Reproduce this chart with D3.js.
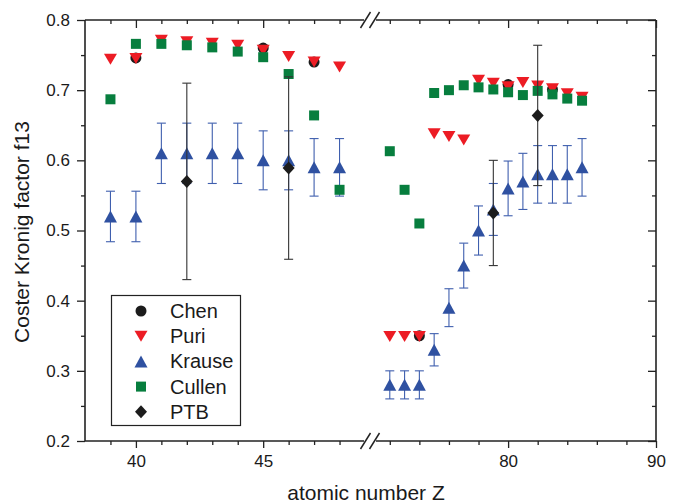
<!DOCTYPE html>
<html>
<head>
<meta charset="utf-8">
<script src="https://cdn.jsdelivr.net/npm/d3@7"></script>
<style>
  body { margin: 0; background: #fff; }
  svg { display: block; }
  text { font-family: "Liberation Sans", Arial, Helvetica, sans-serif; fill: #1a1a1a; }
</style>
</head>
<body>
<svg id="chart" width="678" height="504"></svg>
<script>
// Coster-Kronig factor f13 versus atomic number Z, from several sources
const chenZ = [40, 45, 47, 74, 80, 83];
const chenF = [0.746, 0.760, 0.740, 0.350, 0.708, 0.701];

const puriZ = [39, 40, 41, 42, 43, 44, 45, 46, 47, 48, 72, 73, 74, 75, 76, 77, 78, 79, 80, 81, 82, 83, 84, 85];
const puriF = [0.744, 0.745, 0.771, 0.769, 0.767, 0.764, 0.757, 0.748, 0.740, 0.733,
               0.349, 0.349, 0.349, 0.638, 0.634, 0.629, 0.714, 0.710, 0.705, 0.711, 0.706, 0.702, 0.695, 0.690];

const krauseZ = [39, 40, 41, 42, 43, 44, 45, 46, 47, 48, 72, 73, 74, 75, 76, 77, 78, 79, 80, 81, 82, 83, 84, 85];
const krauseF = [0.52, 0.52, 0.61, 0.61, 0.61, 0.61, 0.60, 0.60, 0.59, 0.59,
                 0.28, 0.28, 0.28, 0.33, 0.39, 0.45, 0.50, 0.53, 0.56, 0.57, 0.58, 0.58, 0.58, 0.59];
const krauseErr = [0.036, 0.036, 0.043, 0.043, 0.043, 0.043, 0.042, 0.042, 0.041, 0.041,
                   0.020, 0.020, 0.020, 0.023, 0.027, 0.032, 0.035, 0.037, 0.039, 0.040, 0.041, 0.041, 0.041, 0.041];

const cullenZ = [39, 40, 41, 42, 43, 44, 45, 46, 47, 48, 72, 73, 74, 75, 76, 77, 78, 79, 80, 81, 82, 83, 84, 85];
const cullenF = [0.687, 0.766, 0.766, 0.764, 0.761, 0.755, 0.747, 0.723, 0.664, 0.558,
                 0.613, 0.558, 0.510, 0.696, 0.700, 0.707, 0.704, 0.701, 0.697, 0.693, 0.699, 0.694, 0.688, 0.685];

const ptbZ = [42, 46, 79, 82];
const ptbF = [0.570, 0.589, 0.525, 0.664];
const ptbErr = [0.140, 0.130, 0.075, 0.100];

// Axis ticks
const leftMajor = [40, 45];
const leftMinor = [39, 41, 42, 43, 44, 46, 47, 48];
const rightMajor = [80, 90];
const rightMinor = [72, 74, 76, 78, 82, 84, 86, 88];
const yMajor = [0.2, 0.3, 0.4, 0.5, 0.6, 0.7, 0.8];
const yMinor = [0.25, 0.35, 0.45, 0.55, 0.65, 0.75];

const legendNames = ["Chen", "Puri", "Krause", "Cullen", "PTB"];

const colors = { chen: "#1c1c1c", puri: "#ec1c24", krause: "#2f51a1", cullen: "#077e3e", ptb: "#1c1c1c" };

const svg = d3.select("#chart");
const plot = { left: 85, right: 656, top: 20, bottom: 441 };
const gapL = 365, gapR = 375;

// Broken x axis: two linear pieces
const xL = d3.scaleLinear().domain([38, 49]).range([plot.left, gapL]);
const xR = d3.scaleLinear().domain([71, 90]).range([gapR, plot.right]);
const x = z => (z < 60 ? xL(z) : xR(z));
const y = d3.scaleLinear().domain([0.2, 0.8]).range([plot.bottom, plot.top]);

const axisColor = "#222";

function styleAxis(g) {
  g.select(".domain").remove();
  g.selectAll(".tick line").attr("stroke", axisColor).attr("stroke-width", 1.3);
  g.selectAll(".tick text").attr("font-size", 17).attr("fill", "#1a1a1a");
}

// Bottom axis (ticks outside)
svg.append("g").attr("transform", `translate(0,${plot.bottom})`)
  .call(d3.axisBottom(xL).tickValues(leftMajor).tickSize(7).tickPadding(7).tickFormat(d3.format("d"))).call(styleAxis);
svg.append("g").attr("transform", `translate(0,${plot.bottom})`)
  .call(d3.axisBottom(xL).tickValues(leftMinor).tickSize(4).tickFormat("")).call(styleAxis);
svg.append("g").attr("transform", `translate(0,${plot.bottom})`)
  .call(d3.axisBottom(xR).tickValues(rightMajor).tickSize(7).tickPadding(7).tickFormat(d3.format("d"))).call(styleAxis);
svg.append("g").attr("transform", `translate(0,${plot.bottom})`)
  .call(d3.axisBottom(xR).tickValues(rightMinor).tickSize(4).tickFormat("")).call(styleAxis);

// Top axis (ticks inside, no labels)
svg.append("g").attr("transform", `translate(0,${plot.top})`)
  .call(d3.axisBottom(xL).tickValues(leftMajor).tickSize(8).tickFormat("")).call(styleAxis);
svg.append("g").attr("transform", `translate(0,${plot.top})`)
  .call(d3.axisBottom(xL).tickValues(leftMinor).tickSize(4).tickFormat("")).call(styleAxis);
svg.append("g").attr("transform", `translate(0,${plot.top})`)
  .call(d3.axisBottom(xR).tickValues(rightMajor).tickSize(8).tickFormat("")).call(styleAxis);
svg.append("g").attr("transform", `translate(0,${plot.top})`)
  .call(d3.axisBottom(xR).tickValues(rightMinor).tickSize(4).tickFormat("")).call(styleAxis);

// Left axis (ticks outside)
svg.append("g").attr("transform", `translate(${plot.left},0)`)
  .call(d3.axisLeft(y).tickValues(yMajor).tickSize(8).tickPadding(7).tickFormat(d3.format(".1f"))).call(styleAxis);
svg.append("g").attr("transform", `translate(${plot.left},0)`)
  .call(d3.axisLeft(y).tickValues(yMinor).tickSize(4).tickFormat("")).call(styleAxis);

// Right axis (ticks inside)
svg.append("g").attr("transform", `translate(${plot.right},0)`)
  .call(d3.axisLeft(y).tickValues(yMajor).tickSize(8).tickFormat("")).call(styleAxis);
svg.append("g").attr("transform", `translate(${plot.right},0)`)
  .call(d3.axisLeft(y).tickValues(yMinor).tickSize(4).tickFormat("")).call(styleAxis);

// Frame with breaks in top and bottom lines
const frame = svg.append("g").attr("stroke", axisColor).attr("stroke-width", 1.6).attr("fill", "none");
[plot.top, plot.bottom].forEach(yy => {
  frame.append("line").attr("x1", plot.left).attr("x2", gapL - 1).attr("y1", yy).attr("y2", yy);
  frame.append("line").attr("x1", gapR + 1).attr("x2", plot.right).attr("y1", yy).attr("y2", yy);
  [gapL + 0.5, gapR - 0.5].forEach(cx => {
    frame.append("line").attr("x1", cx - 5).attr("y1", yy + 8).attr("x2", cx + 5).attr("y2", yy - 8)
      .attr("stroke-width", 1.5);
  });
});
frame.append("line").attr("x1", plot.left).attr("x2", plot.left).attr("y1", plot.top).attr("y2", plot.bottom);
frame.append("line").attr("x1", plot.right).attr("x2", plot.right).attr("y1", plot.top).attr("y2", plot.bottom);

// Marker shapes
const shapes = {
  circle: "M5.5,0A5.5,5.5,0,1,1,-5.5,0A5.5,5.5,0,1,1,5.5,0Z",
  down: "M-6.5,-5.5L6.5,-5.5L0,5.5Z",
  up: "M0,-6L6.5,6L-6.5,6Z",
  square: "M-5,-5H5V5H-5Z",
  diamond: "M0,-6.5L6,0L0,6.5L-6,0Z"
};

function drawMarkers(zs, vs, shape, color) {
  svg.append("g").selectAll("path").data(zs).join("path")
    .attr("d", shapes[shape])
    .attr("transform", (z, i) => `translate(${x(z)},${y(vs[i])})`)
    .attr("fill", color);
}

function drawErrors(zs, vs, es, color, width, cap) {
  const g = svg.append("g").attr("stroke", color).attr("stroke-width", width).attr("fill", "none");
  zs.forEach((z, i) => {
    const cx = x(z), y1 = y(vs[i] + es[i]), y2 = y(vs[i] - es[i]);
    g.append("line").attr("x1", cx).attr("x2", cx).attr("y1", y1).attr("y2", y2);
    g.append("line").attr("x1", cx - cap).attr("x2", cx + cap).attr("y1", y1).attr("y2", y1);
    g.append("line").attr("x1", cx - cap).attr("x2", cx + cap).attr("y1", y2).attr("y2", y2);
  });
}

drawMarkers(chenZ, chenF, "circle", colors.chen);
drawMarkers(puriZ, puriF, "down", colors.puri);
drawErrors(krauseZ, krauseF, krauseErr, "#3f5fae", 1.1, 4.5);
drawMarkers(krauseZ, krauseF, "up", colors.krause);
drawMarkers(cullenZ, cullenF, "square", colors.cullen);
drawErrors(ptbZ, ptbF, ptbErr, "#333", 1.1, 4.5);
drawMarkers(ptbZ, ptbF, "diamond", colors.ptb);

// Legend
const legend = svg.append("g");
legend.append("rect").attr("x", 111.5).attr("y", 295.5).attr("width", 129).attr("height", 130)
  .attr("fill", "#fff").attr("stroke", "#222").attr("stroke-width", 1.2);
const legendShapes = ["circle", "down", "up", "square", "diamond"];
const legendColors = [colors.chen, colors.puri, colors.krause, colors.cullen, colors.ptb];
legendNames.forEach((name, i) => {
  const cy = 311 + i * 25.2;
  legend.append("path").attr("d", shapes[legendShapes[i]])
    .attr("transform", `translate(141,${cy})`).attr("fill", legendColors[i]);
  legend.append("text").attr("x", 170).attr("y", cy + 7).attr("font-size", 20).text(name);
});

// Axis titles
svg.append("text").attr("x", 366).attr("y", 500).attr("text-anchor", "middle")
  .attr("font-size", 21).text("atomic number Z");
svg.append("text").attr("transform", `translate(29,232) rotate(-90)`)
  .attr("text-anchor", "middle").attr("font-size", 21).text("Coster Kronig factor f13");
</script>
</body>
</html>
